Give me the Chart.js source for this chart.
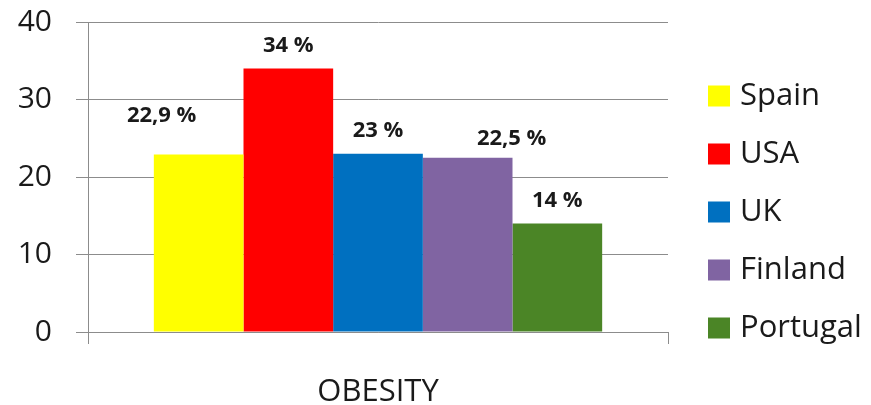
<!DOCTYPE html>
<html>
<head>
<meta charset="utf-8">
<script src="https://cdn.jsdelivr.net/npm/chart.js@4.4.1/dist/chart.umd.min.js"></script>
<style>
  html, body { margin: 0; padding: 0; background: #ffffff; }
  #wrap { width: 871px; height: 405px; }
</style>
</head>
<body>
<div id="wrap"><canvas id="c" width="871" height="405"></canvas></div>
<script>
// ---- data ----
const categories = ["OBESITY"];
const countries = ["Spain", "USA", "UK", "Finland", "Portugal"];
const obesity = [22.9, 34, 23, 22.5, 14];
const valueLabels = ["22,9 %", "34 %", "23 %", "22,5 %", "14 %"];
const yTicks = [0, 10, 20, 30, 40];

// ---- styles ----
const colors = ["#FFFF00", "#FF0000", "#0070C0", "#8064A2", "#4B8526"];
const FONT = "'Open Sans', Lato, 'DejaVu Sans', sans-serif";

const datasets = countries.map((name, i) => ({
  label: name,
  data: [obesity[i]],
  backgroundColor: colors[i],
  borderWidth: 0,
  barPercentage: 1.0,
  categoryPercentage: 0.773
}));

const valueLabelPlugin = {
  id: 'valueLabels',
  afterDatasetsDraw(chart, args, opts) {
    const ctx = chart.ctx;
    ctx.save();
    ctx.font = "bold 22px " + FONT;
    ctx.fillStyle = "#1a1a1a";
    ctx.textAlign = "center";
    ctx.textBaseline = "middle";
    chart.data.datasets.forEach((ds, i) => {
      const meta = chart.getDatasetMeta(i);
      const bar = meta.data[0];
      const sh = opts.shift[i] || [0, 23];
      ctx.fillText(valueLabels[i], bar.x + sh[0], bar.y - sh[1]);
    });
    ctx.restore();
  }
};

const legendPlugin = {
  id: 'sideLegend',
  afterDraw(chart, args, opts) {
    const ctx = chart.ctx;
    ctx.save();
    ctx.font = "31px " + FONT;
    ctx.textAlign = "left";
    ctx.textBaseline = "middle";
    chart.data.datasets.forEach((ds, i) => {
      const cy = opts.top + i * opts.step;
      ctx.fillStyle = ds.backgroundColor;
      ctx.fillRect(opts.x, cy - 10.5, 22, 21);
      ctx.fillStyle = "#1a1a1a";
      ctx.fillText(ds.label, opts.x + 32, cy);
    });
    ctx.restore();
  }
};

new Chart(document.getElementById('c'), {
  type: 'bar',
  data: { labels: categories, datasets },
  plugins: [valueLabelPlugin, legendPlugin],
  options: {
    responsive: false,
    animation: false,
    layout: { padding: { top: 22, right: 203, left: 0, bottom: 0 } },
    plugins: {
      legend: { display: false },
      tooltip: { enabled: false },
      valueLabels: { shift: [[-37, 39], [0, 23], [0, 23], [44, 19], [0, 23]] },
      sideLegend: { x: 708, top: 96, step: 58 }
    },
    scales: {
      x: {
        afterFit(s) { s.height = 73; s.paddingLeft = 0; s.paddingRight = 0; },
        grid: { drawOnChartArea: false, drawTicks: true, tickLength: 12, color: "#8c8c8c", offset: true },
        border: { display: true, color: "#8c8c8c", width: 1 },
        ticks: { color: "#1a1a1a", font: { family: FONT, size: 31 }, padding: 30 }
      },
      y: {
        min: 0, max: 40,
        afterFit(s) { s.width = 88; s.paddingTop = 0; s.paddingBottom = 0; },
        afterBuildTicks(s) { s.ticks = yTicks.map(v => ({ value: v })); },
        grid: { color: "#8c8c8c", lineWidth: 1, tickLength: 12, drawTicks: true },
        border: { display: true, color: "#8c8c8c", width: 1 },
        ticks: { color: "#1a1a1a", font: { family: FONT, size: 30 }, padding: 24 }
      }
    }
  }
});
</script>
</body>
</html>
